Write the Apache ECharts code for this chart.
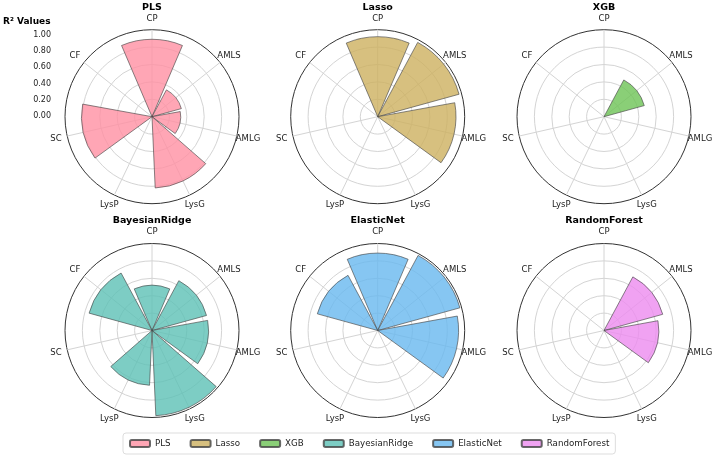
<!DOCTYPE html>
<html>
<head>
<meta charset="utf-8">
<script src="https://cdn.jsdelivr.net/npm/echarts@6/dist/echarts.min.js"></script>
<style>
  html, body { margin: 0; padding: 0; background: #fff; }
  #chart { width: 714px; height: 463px; }
</style>
</head>
<body>
<div id="chart"></div>
<script>
// 类别 / 模型
const categories = ["CP", "AMLS", "AMLG", "LysG", "LysP", "SC", "CF"];
const models = ["PLS", "Lasso", "XGB", "BayesianRidge", "ElasticNet", "RandomForest"];

// R² per model, in category order
const plsValues = [0.89, 0.35, 0.33, 0.82, 0, 0.81, 0];
const lassoValues = [0.92, 0.97, 0.9, 0, 0, 0, 0];
const xgbValues = [0, 0.48, 0, 0, 0, 0, 0];
const bayesianRidgeValues = [0.52, 0.65, 0.65, 0.98, 0.63, 0, 0.75];
const elasticNetValues = [0.89, 0.98, 0.93, 0, 0, 0, 0.72];
const randomForestValues = [0, 0.7, 0.63, 0, 0, 0, 0];

const allValues = [plsValues, lassoValues, xgbValues, bayesianRidgeValues, elasticNetValues, randomForestValues];
const colors = ["#FF90A2", "#CDB05F", "#6DC355", "#5DC1B5", "#68B8EF", "#EC8BEF"];

const FONT = "DejaVu Sans";
const LABEL_SIZE = 8.5;
const centers = [
  [152, 116.7], [377.7, 116.7], [604, 116.7],
  [152, 330.5], [377.7, 330.5], [604, 330.5],
];
const R = 87;
const LABEL_MARGIN = 11.5;
const N = categories.length;

// echarts anchors angle labels by an edge; pad them back so each one is centred on its spoke
const measureCtx = document.createElement("canvas").getContext("2d");
measureCtx.font = LABEL_SIZE + "px '" + FONT + "'";
function centredLabel(name, idx) {
  const w = measureCtx.measureText(name).width;
  const h = LABEL_SIZE + 1;
  const theta = (idx * 2 * Math.PI) / N;
  const d = (R + LABEL_MARGIN) / R;
  const dx = Math.sin(theta) * d;
  const dy = -Math.cos(theta) * d;
  let pad = [0, 0, 0, 0];
  if (Math.abs(dx) >= 0.3) {
    if (dx > 0) pad[3] = -w / 2;
    else pad[1] = -w / 2;
  }
  if (Math.abs(dy) >= 0.3) {
    if (dy > 0) pad[0] = -h / 2;
    else pad[2] = -h / 2;
  }
  return { value: name, textStyle: { padding: pad } };
}
const angleData = categories.map(centredLabel);

// polars 0-5: full-circle grid (spokes + rings); polars 6-11: the bars and category labels
const polar = [];
const angleAxis = [];
const radiusAxis = [];
centers.forEach((c) => {
  polar.push({ center: c, radius: R });
});
centers.forEach((c) => {
  polar.push({ center: c, radius: R });
});

centers.forEach((c, i) => {
  angleAxis.push({
    polarIndex: i,
    type: "value",
    min: 0,
    max: 360,
    interval: 360 / N,
    startAngle: 90,
    clockwise: true,
    axisLine: { show: false },
    axisTick: { show: false },
    axisLabel: { show: false },
    splitLine: { show: true, lineStyle: { color: "#d4d4d4", width: 1 } },
  });
  radiusAxis.push({
    polarIndex: i,
    type: "value",
    min: 0,
    max: 1,
    interval: 0.2,
    axisLine: { show: false },
    axisTick: { show: false },
    axisLabel: { show: false },
    splitLine: {
      show: true,
      lineStyle: { color: ["#d4d4d4", "#d4d4d4", "#d4d4d4", "#d4d4d4", "#d4d4d4", "#333"], width: 1 },
    },
  });
});
centers.forEach((c, i) => {
  angleAxis.push({
    polarIndex: i + 6,
    type: "category",
    data: angleData,
    boundaryGap: false,
    startAngle: 90,
    clockwise: true,
    axisLine: { show: false },
    axisTick: { show: false },
    axisLabel: { margin: LABEL_MARGIN, fontFamily: FONT, fontSize: LABEL_SIZE, color: "#222" },
    splitLine: { show: false },
  });
  radiusAxis.push({
    polarIndex: i + 6,
    type: "value",
    min: 0,
    max: 1,
    axisLine: { show: false },
    axisTick: { show: false },
    axisLabel: { show: false },
    splitLine: { show: false },
  });
});

const series = models.map((name, i) => ({
  name: name,
  type: "bar",
  coordinateSystem: "polar",
  polarIndex: i + 6,
  data: allValues[i],
  barCategoryGap: "10%",
  itemStyle: {
    color: colors[i],
    opacity: 0.8,
    borderColor: "#444",
    borderWidth: 0.8,
  },
  silent: true,
}));

const titles = models.map((name, i) => ({
  text: name,
  left: centers[i][0],
  top: i < 3 ? 2.5 : 215.5,
  textAlign: "center",
  padding: 0,
  textStyle: { fontFamily: FONT, fontSize: 9.5, fontWeight: "bold", color: "#000" },
}));
titles.push({
  text: "R² Values",
  left: 3,
  top: 17,
  padding: 0,
  textStyle: { fontFamily: FONT, fontSize: 9, fontWeight: "bold", color: "#000" },
});

const chart = echarts.init(document.getElementById("chart"), null, { renderer: "canvas" });
chart.setOption({
  animation: false,
  backgroundColor: "#fff",
  title: titles,
  polar: polar,
  angleAxis: angleAxis,
  radiusAxis: radiusAxis,
  // left-hand R² scale
  grid: { left: 53, top: 35, height: 81, width: 1 },
  xAxis: { type: "value", show: false },
  yAxis: {
    type: "value",
    min: 0,
    max: 1,
    interval: 0.2,
    axisLine: { show: false },
    axisTick: { show: false },
    splitLine: { show: false },
    axisLabel: {
      margin: 2,
      fontFamily: FONT,
      fontSize: 8,
      color: "#222",
      formatter: (v) => v.toFixed(2),
    },
  },
  legend: {
    data: models,
    left: 123,
    top: 433,
    itemWidth: 20,
    itemHeight: 7,
    itemGap: 19,
    padding: [6, 6],
    borderColor: "#ddd",
    borderWidth: 1,
    borderRadius: 3,
    textStyle: { fontFamily: FONT, fontSize: 8.7, color: "#222" },
  },
  series: series,
});
</script>
</body>
</html>
